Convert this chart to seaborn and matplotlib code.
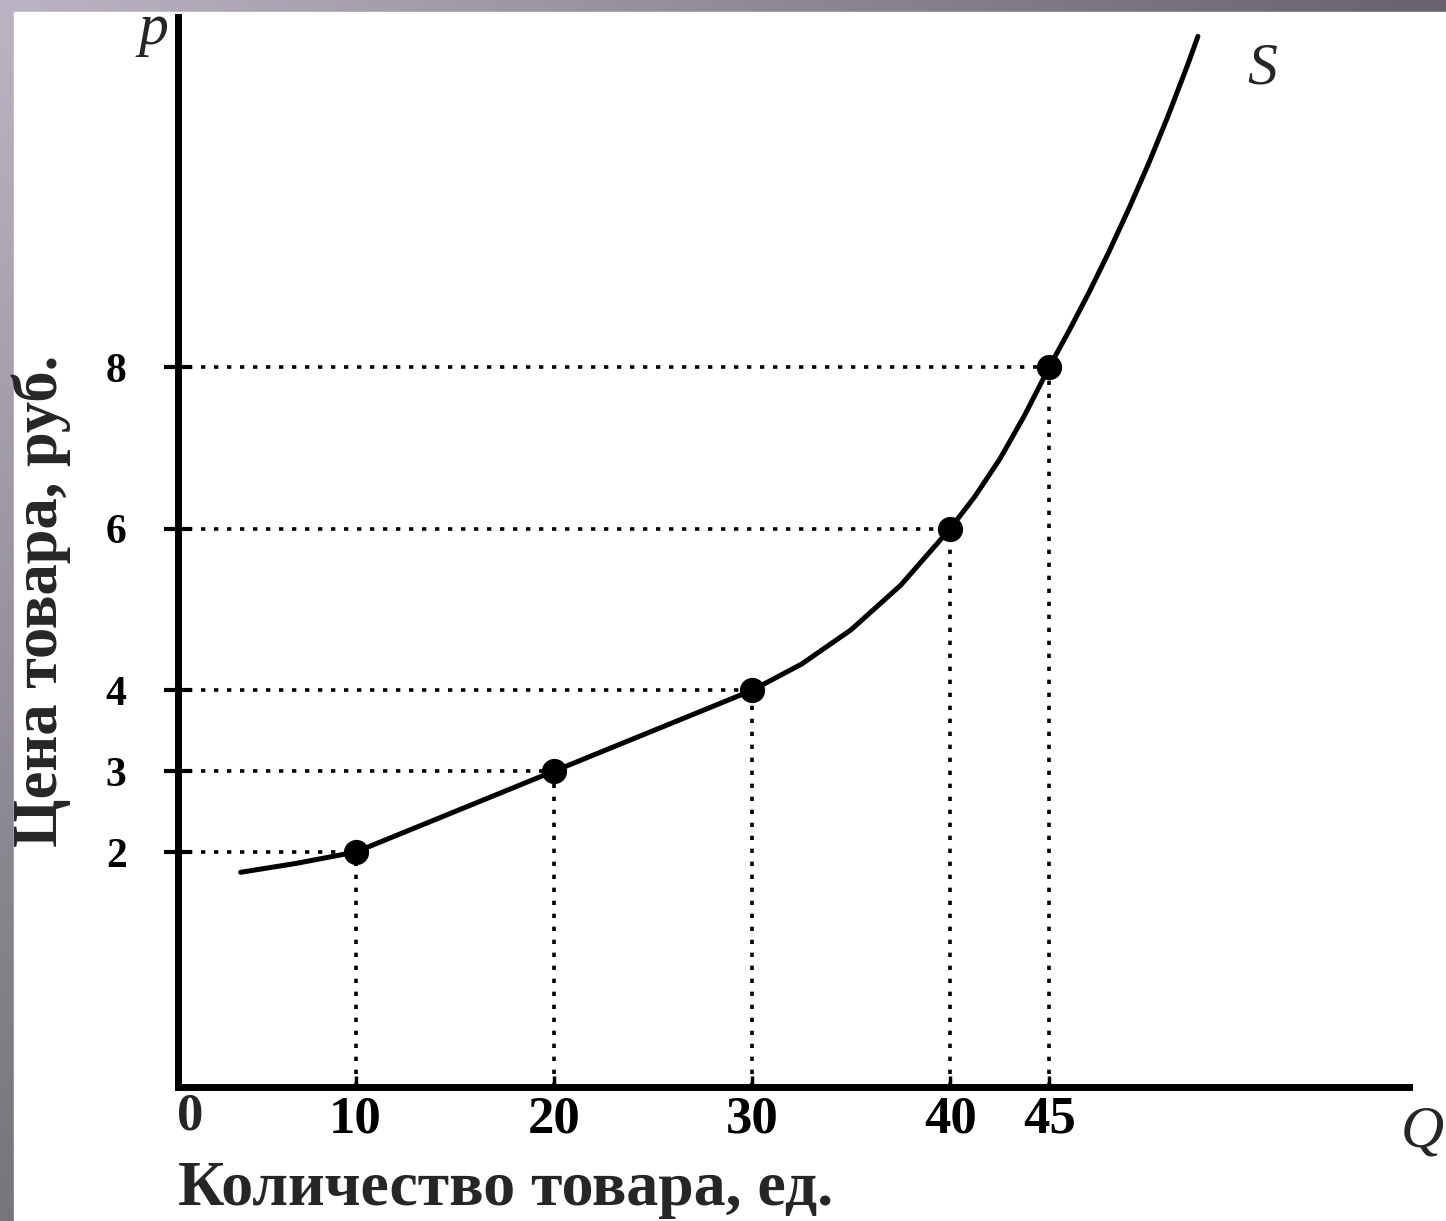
import numpy as np
import pandas as pd
import matplotlib
matplotlib.use("Agg")
import matplotlib.pyplot as plt
import seaborn as sns

# ---- data ----
quantity = [10, 20, 30, 40, 45]
price = [2, 3, 4, 6, 8]
curve_q = [4.2, 7, 10, 20, 30, 32.5, 35, 37.5, 40, 41.25, 42.5, 43.75, 45,
           46, 47, 48, 49, 50, 51, 52, 52.5]
curve_p = [1.75, 1.86, 2.0, 3.0, 4.0, 4.325, 4.75, 5.3, 6.0, 6.4, 6.86, 7.4, 8.0,
           8.45, 8.92, 9.42, 9.95, 10.51, 11.11, 11.75, 12.09]
x_ticks = [10, 20, 30, 40, 45]
x_tick_labels = ["10", "20", "30", "40", "45"]
y_ticks = [2, 3, 4, 6, 8]
y_tick_labels = ["2", "3", "4", "6", "8"]

sns.set_theme(style="white")
plt.rcParams["font.family"] = ["Liberation Serif", "DejaVu Serif"]

W, H = 1446, 1221
fig = plt.figure(figsize=(W / 100, H / 100), dpi=100)

# background frame with gradient
bg = fig.add_axes([0, 0, 1, 1], zorder=-5)
bg.set_axis_off()
gx = np.linspace(0, 1, 200)[None, :]
gy = np.linspace(0, 1, 200)[:, None]
c_tl = np.array([188, 180, 196]) / 255
c_tr = np.array([104, 98, 110]) / 255
c_bl = np.array([118, 116, 124]) / 255
img = c_tl + (c_tr - c_tl) * gx[..., None] + (c_bl - c_tl) * gy[..., None]
img = np.clip(img, 0, 1)
bg.imshow(img, extent=[0, 1, 0, 1], origin="upper", aspect="auto")
bg.add_patch(plt.Rectangle((14 / W, 0), 1, 1 - 12 / H, color="white", zorder=2))
bg.set_xlim(0, 1)
bg.set_ylim(0, 1)

ax = fig.add_axes([178 / W, 1 - 1087 / H, (1409 - 178) / W, (1087 - 17) / H])
ax.set_facecolor("none")
x0, x1 = 1.04, 63.15
y0, y1 = -0.906, 12.33
ax.set_xlim(x0, x1)
ax.set_ylim(y0, y1)

# dotted guide lines
for q, p in zip(quantity, price):
    ax.plot([x0 + 0.5, q], [p, p], color="black", lw=2.6, ls=(0, (1.2, 2.4)), zorder=2)
    ax.plot([q, q], [y0, p], color="black", lw=2.6, ls=(0, (1.2, 2.4)), zorder=2)

curve = pd.DataFrame({"Q": curve_q, "P": curve_p})
sns.lineplot(data=curve, x="Q", y="P", sort=False, color="black", lw=3.6, ax=ax, zorder=3)
pts = pd.DataFrame({"Q": quantity, "P": price})
sns.scatterplot(data=pts, x="Q", y="P", s=330, color="black", edgecolor="black",
                linewidth=0, zorder=5, ax=ax)

for side in ["top", "right"]:
    ax.spines[side].set_visible(False)
for side in ["left", "bottom"]:
    ax.spines[side].set_linewidth(5)
    ax.spines[side].set_color("black")

ax.set_xticks(x_ticks)
ax.set_xticklabels(x_tick_labels)
ax.set_yticks(y_ticks)
ax.set_yticklabels(y_tick_labels)
ax.tick_params(axis="x", direction="in", length=8, width=2.5, pad=6,
               labelsize=38, colors="black", bottom=True)
ax.tick_params(axis="y", direction="inout", length=20, width=3, pad=27,
               labelsize=30, colors="black", left=True)
for lab in ax.get_xticklabels() + ax.get_yticklabels():
    lab.set_fontweight("bold")
ax.set_xlabel("")
ax.set_ylabel("")

# origin label and axis letters
fig.text(190 / W, 1 - 1116 / H, "0", ha="center", va="center", fontsize=38,
         fontweight="bold")
fig.text(178 / W, 1 - 1205 / H, "Количество товара, ед.", ha="left",
         va="baseline", fontsize=46, fontweight="bold")
fig.text(41 / W, 1 - 601 / H, "Цена товара, руб.", ha="center", va="center",
         rotation=90, fontsize=45, fontweight="bold")
fig.text(1262 / W, 1 - 69 / H, "S", ha="center", va="center", fontsize=43,
         style="italic")
fig.text(153 / W, 1 - 30 / H, "p", ha="center", va="center", fontsize=43,
         style="italic")
fig.text(1444 / W, 1 - 1132 / H, "Q", ha="right", va="center", fontsize=43,
         style="italic")

fig.savefig("out.png", dpi=100)
